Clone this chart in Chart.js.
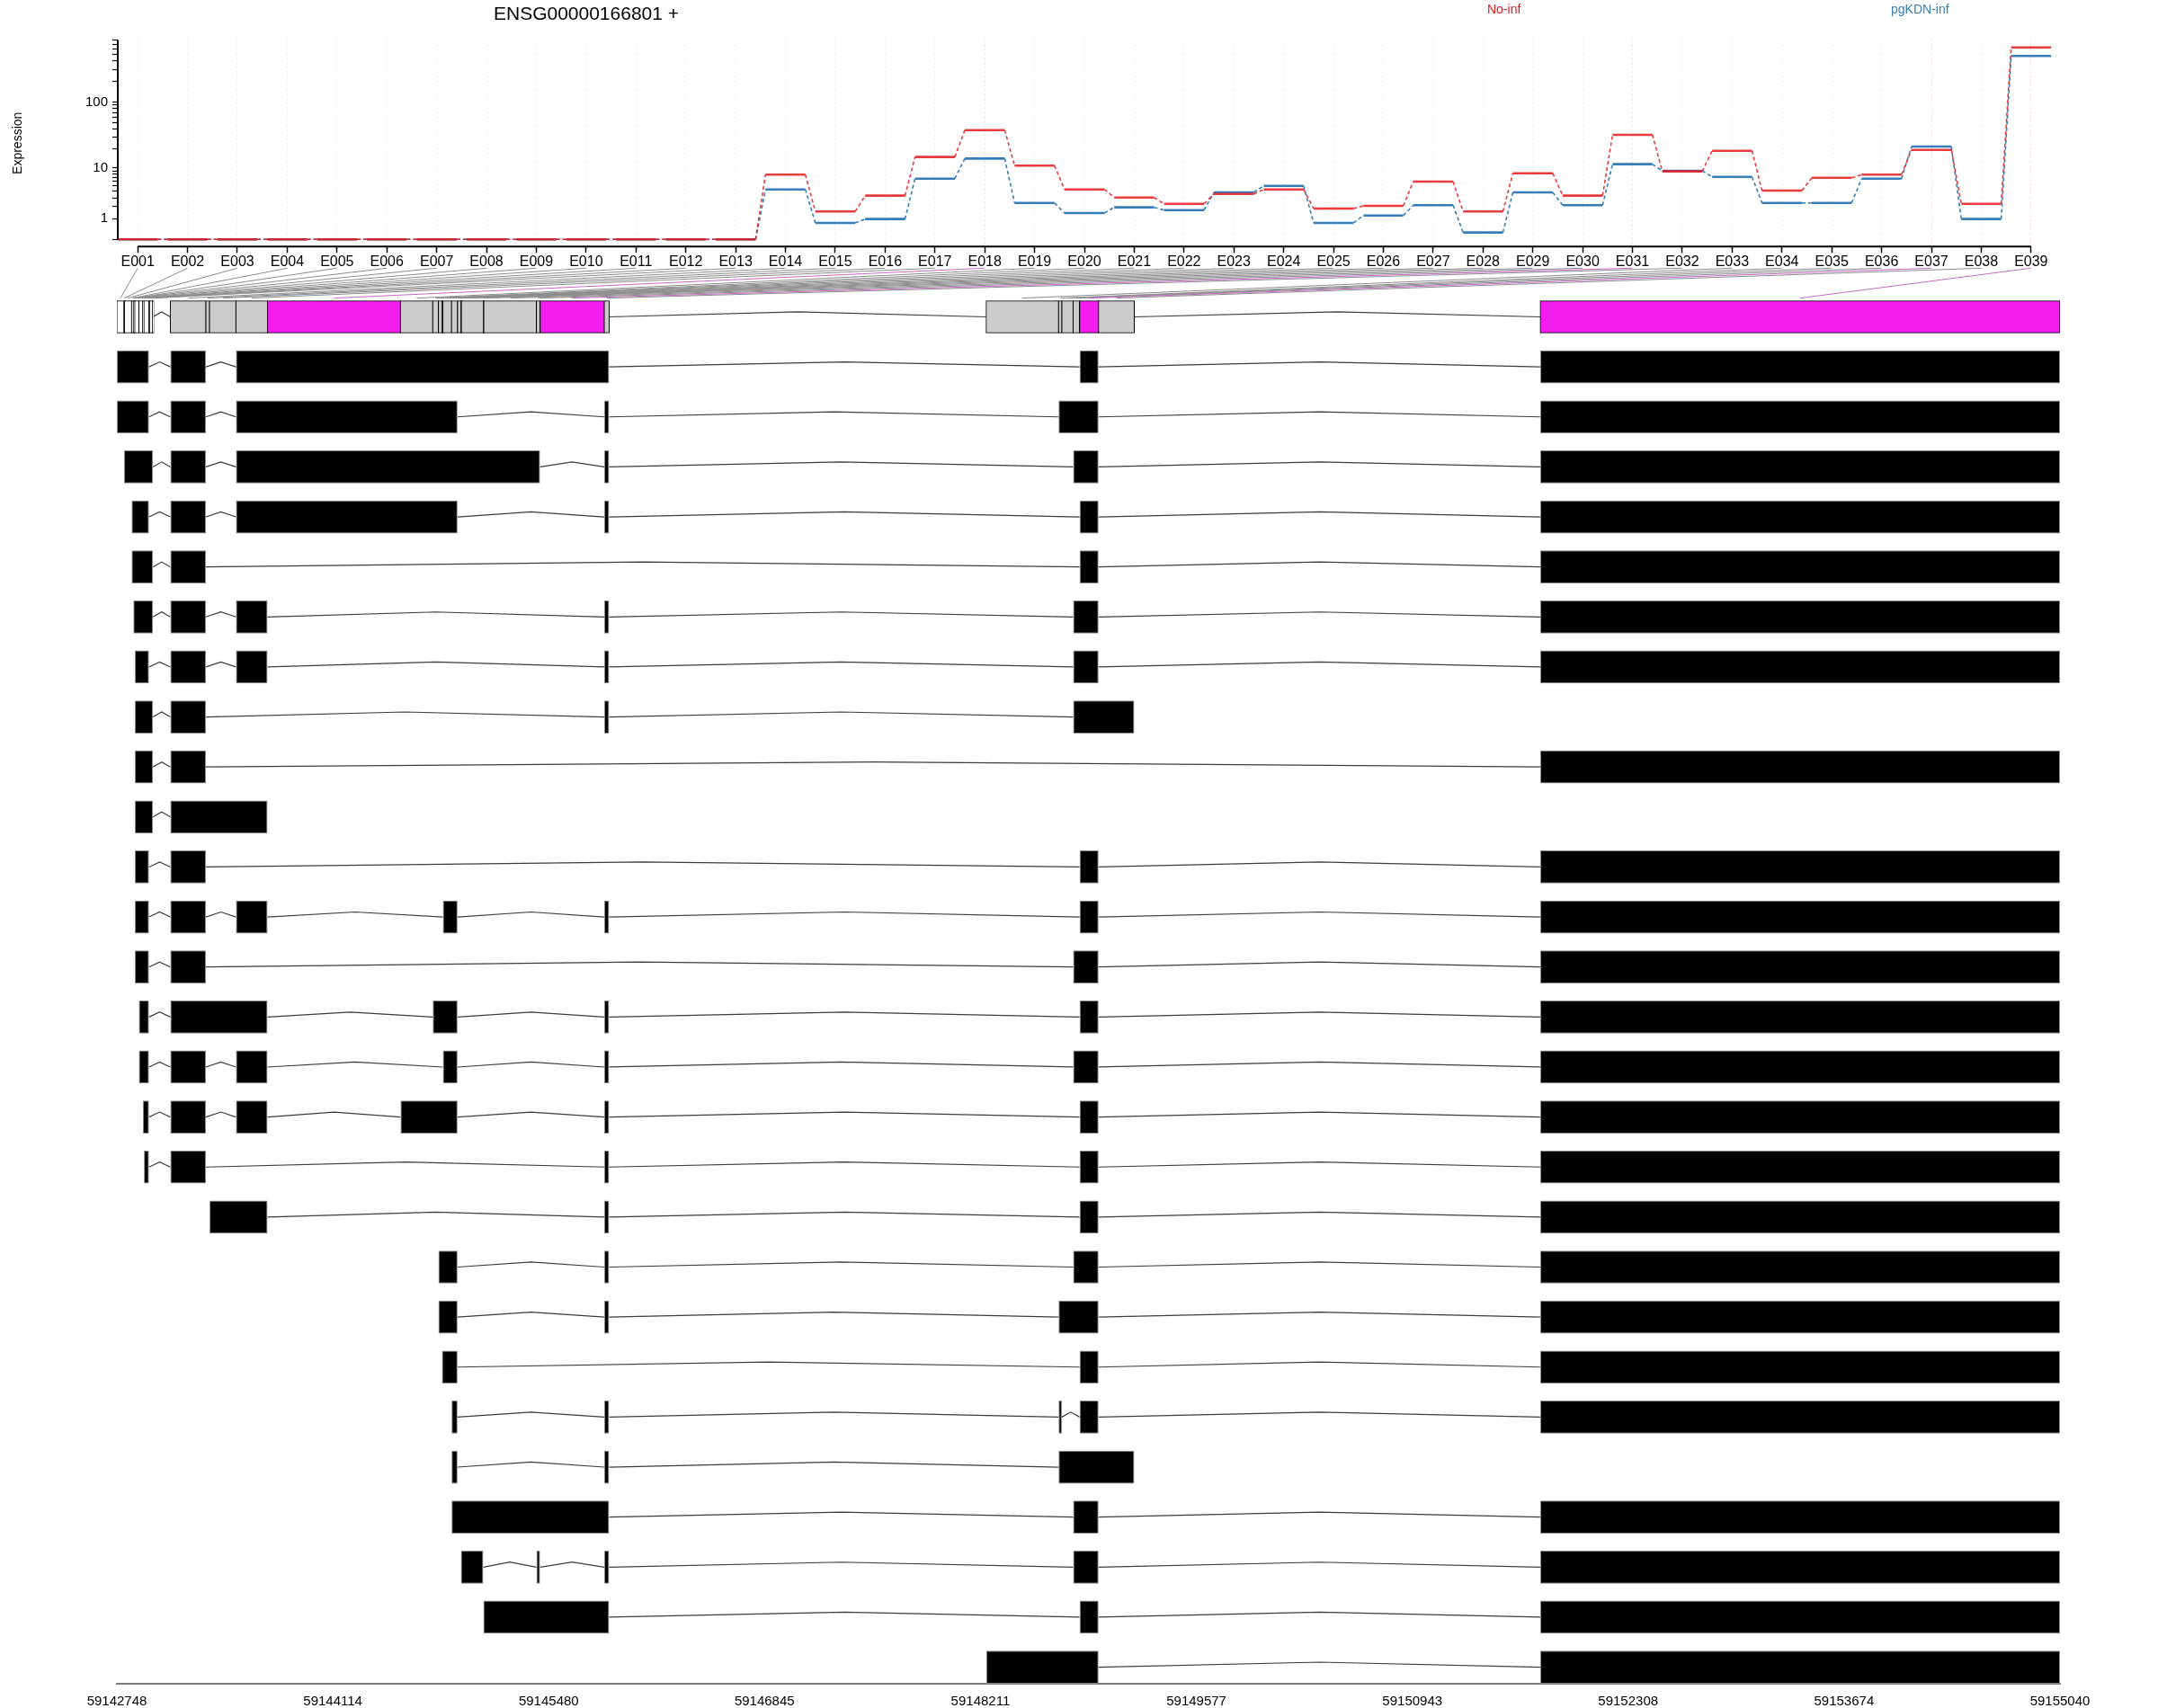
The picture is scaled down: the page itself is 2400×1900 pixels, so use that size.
<!DOCTYPE html>
<html>
<head>
<meta charset="utf-8">
<script src="https://cdn.jsdelivr.net/npm/chart.js@4.4.1/dist/chart.umd.min.js"></script>
<style>
  body { margin: 0; background: #fff; }
  #wrap { position: relative; width: 2400px; height: 1900px; background: #fff; }
  #wrap canvas { position: absolute; left: 0; top: 0; }
</style>
</head>
<body>
<div id="wrap">
  <canvas id="modelCanvas" width="2400" height="1900"></canvas>
  <canvas id="exprCanvas" width="2400" height="300"></canvas>
</div>
<script>
const geneTitle = 'ENSG00000166801 +';
const conditions = ['No-inf', 'pgKDN-inf'];

const exonIds = ['E001','E002','E003','E004','E005','E006','E007','E008','E009','E010','E011','E012','E013',
  'E014','E015','E016','E017','E018','E019','E020','E021','E022','E023','E024','E025','E026',
  'E027','E028','E029','E030','E031','E032','E033','E034','E035','E036','E037','E038','E039'];

// fitted expression per exon bin
const noInf = [0,0,0,0,0,0,0,0,0,0,0,0,0,
  7.8,1.55,3.34,14.9,38.2,10.9,4.35,3.08,2.3,3.6,4.35,1.82,2.08,
  5.96,1.55,8.2,3.34,32.4,8.8,18.6,4.15,6.9,7.8,19.2,2.3,629];
const pgKDN = [0,0,0,0,0,0,0,0,0,0,0,0,0,
  4.35,0.74,0.98,6.69,14.1,2.4,1.42,1.93,1.67,3.85,5.04,0.74,1.23,
  2.15,0.26,3.85,2.15,11.5,9.0,7.17,2.4,2.4,6.69,21.6,0.98,471];

const sigExons = ['E018','E031','E037','E039'];
const noCountExons = ['E001','E002','E003','E004','E005','E006','E007','E008','E009','E010','E011','E012','E013'];

const yTickVals = [0,1,2,3,4,5,6,7,8,9,10,20,30,40,50,60,70,80,90,100,200,300,400,500,600,700,800];
const yLabelVals = [1,10,100];

// exon bin coordinates (genomic)
const binStart = [59142748,59142793,59142796,59142841,59142852,59142855,59142861,59142887,59142912,59142919,59142951,59142954,59142973,
  59143086,59143311,59143334,59143501,59143701,59144542,59144746,59144782,59144804,59144810,59144865,59144903,59144924,
  59144927,59145066,59145069,59145402,59145425,59145831,59148247,59148705,59148726,59148797,59148838,59148958,59151752];
const binEnd = [59142793,59142796,59142841,59142852,59142855,59142861,59142887,59142912,59142919,59142951,59142954,59142973,59142976,
  59143311,59143334,59143501,59143701,59144542,59144746,59144782,59144804,59144810,59144865,59144903,59144924,59144927,
  59145066,59145069,59145402,59145425,59145831,59145862,59148705,59148726,59148797,59148838,59148958,59149184,59155040];

const transcripts = [
  [[59142748,59142951],[59143086,59143311],[59143501,59145862],[59148838,59148958],[59151752,59155040]],
  [[59142748,59142951],[59143086,59143311],[59143501,59144903],[59145831,59145862],[59148705,59148958],[59151752,59155040]],
  [[59142793,59142976],[59143086,59143311],[59143501,59145425],[59145831,59145862],[59148797,59148958],[59151752,59155040]],
  [[59142841,59142951],[59143086,59143311],[59143501,59144903],[59145831,59145862],[59148838,59148958],[59151752,59155040]],
  [[59142841,59142976],[59143086,59143311],[59148838,59148958],[59151752,59155040]],
  [[59142852,59142976],[59143086,59143311],[59143501,59143701],[59145831,59145862],[59148797,59148958],[59151752,59155040]],
  [[59142861,59142951],[59143086,59143311],[59143501,59143701],[59145831,59145862],[59148797,59148958],[59151752,59155040]],
  [[59142861,59142976],[59143086,59143311],[59145831,59145862],[59148797,59149184]],
  [[59142861,59142976],[59143086,59143311],[59151752,59155040]],
  [[59142861,59142976],[59143086,59143701]],
  [[59142861,59142951],[59143086,59143311],[59148838,59148958],[59151752,59155040]],
  [[59142861,59142951],[59143086,59143311],[59143501,59143701],[59144810,59144903],[59145831,59145862],[59148838,59148958],[59151752,59155040]],
  [[59142861,59142951],[59143086,59143311],[59148797,59148958],[59151752,59155040]],
  [[59142887,59142951],[59143086,59143701],[59144746,59144903],[59145831,59145862],[59148838,59148958],[59151752,59155040]],
  [[59142887,59142951],[59143086,59143311],[59143501,59143701],[59144810,59144903],[59145831,59145862],[59148797,59148958],[59151752,59155040]],
  [[59142912,59142951],[59143086,59143311],[59143501,59143701],[59144542,59144903],[59145831,59145862],[59148838,59148958],[59151752,59155040]],
  [[59142919,59142951],[59143086,59143311],[59145831,59145862],[59148838,59148958],[59151752,59155040]],
  [[59143334,59143701],[59145831,59145862],[59148838,59148958],[59151752,59155040]],
  [[59144782,59144903],[59145831,59145862],[59148797,59148958],[59151752,59155040]],
  [[59144782,59144903],[59145831,59145862],[59148705,59148958],[59151752,59155040]],
  [[59144804,59144903],[59148838,59148958],[59151752,59155040]],
  [[59144865,59144903],[59145831,59145862],[59148705,59148726],[59148838,59148958],[59151752,59155040]],
  [[59144865,59144903],[59145831,59145862],[59148705,59149184]],
  [[59144865,59145862],[59148797,59148958],[59151752,59155040]],
  [[59144924,59145066],[59145402,59145425],[59145831,59145862],[59148797,59148958],[59151752,59155040]],
  [[59145066,59145862],[59148838,59148958],[59151752,59155040]],
  [[59148247,59148958],[59151752,59155040]]
];

const genomicTicks = [59142748,59144114,59145480,59146845,59148211,59149577,59150943,59152308,59153674,59155040];

const RED = '#E41A1C', BLUE = '#377EB8';
const MAGENTA = '#F21DEE', BIN_GREY = '#CCCCCC';
const NARROW = "'Liberation Sans Narrow', 'Liberation Sans', Arial, sans-serif";
const REGULAR = "'Liberation Sans', Arial, sans-serif";

Chart.defaults.font.family = NARROW;
Chart.defaults.color = '#000';

// ---------- expression panel ----------
const halfStep = 0.4;
function stepPoints(vals) {
    const pts = [];
    vals.forEach((v, i) => {
        const y = Math.log10(v + 1);
        pts.push({ x: i + 1 - halfStep, y: y }, { x: i + 1 + halfStep, y: y });
    });
    return pts;
}
const stepSegment = {
    borderDash: ctx => ctx.p0DataIndex % 2 === 1 ? [4, 3] : [],
    borderWidth: ctx => ctx.p0DataIndex % 2 === 1 ? 1.6 : 2.6
};

const headerText = {
    id: 'headerText',
    afterDraw(chart) {
        const { ctx } = chart;
        ctx.save();
        ctx.textBaseline = 'alphabetic';
        ctx.textAlign = 'center';
        ctx.fillStyle = '#000';
        ctx.font = '21px ' + REGULAR;
        ctx.fillText(geneTitle, 652, 22);
        ctx.textAlign = 'left';
        ctx.font = '14px ' + REGULAR;
        ctx.fillStyle = RED;
        ctx.fillText(conditions[0], 1654, 15);
        ctx.fillStyle = BLUE;
        ctx.fillText(conditions[1], 2103, 15);
        ctx.restore();
    }
};

// R-style axis lines: only from first to last tick
const axisLines = {
    id: 'axisLines',
    afterDraw(chart) {
        const { ctx, chartArea } = chart;
        const x = chart.scales.x, y = chart.scales.y;
        ctx.save();
        ctx.strokeStyle = '#000';
        ctx.lineWidth = 2;
        ctx.beginPath();
        ctx.moveTo(x.getPixelForValue(1), chartArea.bottom);
        ctx.lineTo(x.getPixelForValue(exonIds.length), chartArea.bottom);
        ctx.moveTo(chartArea.left, y.getPixelForValue(Math.log10(yTickVals[0] + 1)));
        ctx.lineTo(chartArea.left, y.getPixelForValue(Math.log10(yTickVals[yTickVals.length - 1] + 1)));
        ctx.stroke();
        ctx.restore();
    }
};

const exprChart = new Chart(document.getElementById('exprCanvas'), {
    type: 'line',
    data: {
        datasets: [
            {
                label: conditions[0], data: stepPoints(noInf), order: 0,
                borderColor: 'rgba(228,26,28,0.85)', borderWidth: 2.6,
                pointRadius: 0, tension: 0, fill: false, segment: stepSegment
            },
            {
                label: conditions[1], data: stepPoints(pgKDN), order: 1,
                borderColor: BLUE, borderWidth: 2.6,
                pointRadius: 0, tension: 0, fill: false, segment: stepSegment
            }
        ]
    },
    options: {
        responsive: false,
        animation: false,
        events: [],
        layout: { padding: { top: 44.3, right: 119, left: 0, bottom: 0 } },
        plugins: { legend: { display: false }, tooltip: { enabled: false } },
        scales: {
            x: {
                type: 'linear', min: 0.6, max: 39.4,
                afterBuildTicks: s => { s.ticks = exonIds.map((_, i) => ({ value: i + 1 })); },
                afterFit: s => { s.height = 25.7; },
                ticks: { autoSkip: false, maxRotation: 0, padding: 1, font: { size: 16 },
                    callback: v => exonIds[Math.round(v) - 1] },
                grid: {
                    color: ctx => (ctx.tick && sigExons.includes(exonIds[Math.round(ctx.tick.value) - 1])) ? '#F6D2F3' : '#EBEBEB',
                    lineWidth: 1, tickColor: '#000', tickLength: 7, tickWidth: 1.5, tickBorderDash: []
                },
                border: { display: false, dash: [2, 3] }
            },
            y: {
                type: 'linear', min: -0.105, max: 2.91,
                afterBuildTicks: s => { s.ticks = yTickVals.map(v => ({ value: Math.log10(v + 1) })); },
                afterFit: s => { s.width = 131; },
                title: { display: true, text: 'Expression', font: { size: 14, family: REGULAR }, padding: { top: 12, bottom: 0 } },
                ticks: { autoSkip: false, padding: 5, font: { size: 15 },
                    callback: v => { const n = Math.round(Math.pow(10, v) - 1); return yLabelVals.includes(n) ? String(n) : ''; } },
                grid: { drawOnChartArea: false, tickColor: '#000', tickLength: 6, tickWidth: 1.2 },
                border: { display: false }
            }
        }
    },
    plugins: [headerText, axisLines]
});

// ---------- gene model + transcripts panel ----------
const hatHeight = 0.1;
function binColour(id) {
    if (sigExons.includes(id)) return MAGENTA;
    if (noCountExons.includes(id)) return '#FFFFFF';
    return BIN_GREY;
}
function intronLines(blocks, row) {
    const out = [];
    for (let k = 0; k < blocks.length - 1; k++) {
        const e = blocks[k][1], s = blocks[k + 1][0];
        if (s <= e) continue;
        out.push({
            type: 'line', order: 1,
            data: [{ x: e, y: row }, { x: (e + s) / 2, y: row - hatHeight }, { x: s, y: row }],
            borderColor: '#3c3c3c', borderWidth: 1.2, pointRadius: 0, tension: 0, fill: false
        });
    }
    return out;
}

const modelBlocks = exonIds.map((_, i) => [binStart[i], binEnd[i]]);
const datasets = [
    {
        type: 'bar', indexAxis: 'y', grouped: false, order: 0,
        data: exonIds.map((_, i) => ({ x: [binStart[i], binEnd[i]], y: 0 })),
        backgroundColor: exonIds.map(binColour),
        borderColor: '#000', borderWidth: 1, borderSkipped: false,
        inflateAmount: 0.5, barThickness: 35.3, minBarLength: 1.5
    },
    {
        type: 'bar', indexAxis: 'y', grouped: false, order: 0,
        data: transcripts.flatMap((t, r) => t.map(b => ({ x: [b[0], b[1]], y: r + 1 }))),
        backgroundColor: '#000', borderColor: '#8a8a8a', borderWidth: 1, borderSkipped: false,
        inflateAmount: 0, barThickness: 36.7, minBarLength: 1
    },
    ...intronLines(modelBlocks, 0),
    ...transcripts.flatMap((t, r) => intronLines(t, r + 1))
];

// lines from each exon label down to its bin in the gene model
const connectors = {
    id: 'connectors',
    afterDatasetsDraw(chart) {
        const { ctx } = chart;
        const xTop = exprChart.scales.x;
        const xBot = chart.scales.x;
        const yTop = chart.chartArea.top;
        const yBot = chart.scales.y.getPixelForValue(-0.375);
        ctx.save();
        ctx.lineWidth = 1;
        exonIds.forEach((id, i) => {
            ctx.strokeStyle = sigExons.includes(id) ? '#C46AC4' : '#8C8C8C';
            ctx.beginPath();
            ctx.moveTo(xTop.getPixelForValue(i + 1), yTop);
            ctx.lineTo(xBot.getPixelForValue((binStart[i] + binEnd[i]) / 2), yBot);
            ctx.stroke();
        });
        ctx.restore();
    }
};

const modelChart = new Chart(document.getElementById('modelCanvas'), {
    type: 'bar',
    data: { datasets: datasets },
    options: {
        responsive: false,
        animation: false,
        events: [],
        layout: { padding: { top: 298.3, right: 109, left: 130, bottom: 0 } },
        plugins: { legend: { display: false }, tooltip: { enabled: false } },
        scales: {
            x: {
                type: 'linear', offset: false, min: genomicTicks[0], max: genomicTicks[genomicTicks.length - 1],
                afterBuildTicks: s => { s.ticks = genomicTicks.map(v => ({ value: v })); },
                afterFit: s => { s.height = 26.7; },
                ticks: { autoSkip: false, maxRotation: 0, padding: 3, font: { size: 15 }, callback: v => String(v) },
                grid: { display: false, offset: false },
                border: { display: true, color: '#7a7a7a', width: 2 }
            },
            y: {
                type: 'linear', offset: false, reverse: true, min: -0.9743, max: 27.337,
                grid: { offset: false },
                display: false
            }
        }
    },
    plugins: [connectors]
});
</script>
</body>
</html>
